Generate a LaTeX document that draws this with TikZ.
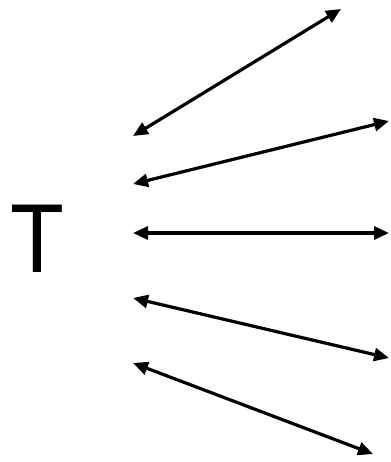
\documentclass[tikz,border=0pt]{standalone}
\usepackage{fontspec}
\setmainfont{Liberation Sans}
\usetikzlibrary{arrows.meta}
\begin{document}
\begin{tikzpicture}[x=1pt,y=-1pt,line width=3.2pt,>={Triangle[length=15pt,width=13pt]}]
\tikzset{every node/.style={inner sep=0pt}}
\useasboundingbox (0,0) rectangle (390,462);
\node[xscale=0.9] (T) at (37,239) {\fontsize{98}{98}\selectfont T};
\coordinate (l1) at (133,136); \coordinate (r1) at (341,9);
\coordinate (l2) at (133,184); \coordinate (r2) at (389,121);
\coordinate (l3) at (133,233); \coordinate (r3) at (389,233);
\coordinate (l4) at (133,298); \coordinate (r4) at (389,358);
\coordinate (l5) at (133,363); \coordinate (r5) at (373,454);
\draw[<->] (l1)--(r1);
\draw[<->] (l2)--(r2);
\draw[<->] (l3)--(r3);
\draw[<->] (l4)--(r4);
\draw[<->] (l5)--(r5);
\end{tikzpicture}
\end{document}
